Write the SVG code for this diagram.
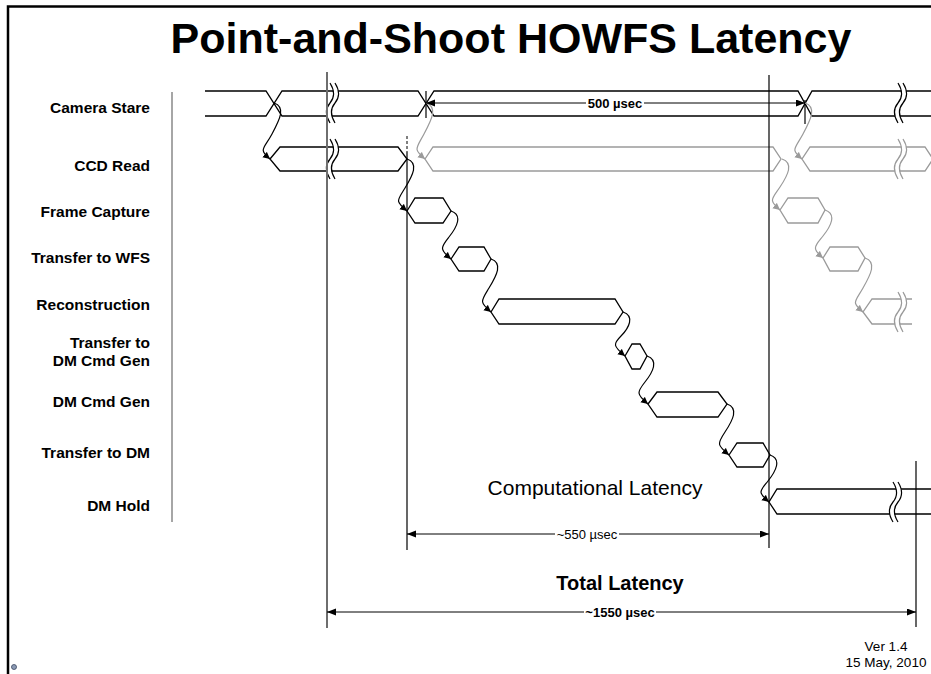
<svg xmlns="http://www.w3.org/2000/svg" xmlns:xlink="http://www.w3.org/1999/xlink" width="931" height="674" viewBox="0 0 931 674">
<style>
.lbl{font-family:"Liberation Sans",Arial,sans-serif;font-weight:bold;font-size:15.5px;text-anchor:end;fill:#000}
.bus{fill:none;stroke:#000;stroke-width:1.3;stroke-linejoin:miter}
.gbus{fill:none;stroke:#9a9a9a;stroke-width:1.3}
.con{fill:none;stroke:#000;stroke-width:1.2;marker-end:url(#ah)}
.gcon{fill:none;stroke:#9a9a9a;stroke-width:1.2;marker-end:url(#gah)}
.dim{stroke:#000;stroke-width:1;marker-start:url(#dah);marker-end:url(#dah)}
.vl{stroke:#000;stroke-width:1.2}
.txt{font-family:"Liberation Sans",Arial,sans-serif;fill:#000;text-anchor:middle}
</style>
<defs>
<marker id="ah" markerWidth="9" markerHeight="8" refX="7" refY="3.5" orient="auto" markerUnits="userSpaceOnUse"><path d="M0,0 L7,3.5 L0,7 z" fill="#000"/></marker>
<marker id="gah" markerWidth="9" markerHeight="8" refX="7" refY="3.5" orient="auto" markerUnits="userSpaceOnUse"><path d="M0,0 L7,3.5 L0,7 z" fill="#9a9a9a"/></marker>
<marker id="dah" markerWidth="10" markerHeight="8" refX="9" refY="3.5" orient="auto-start-reverse" markerUnits="userSpaceOnUse"><path d="M0,0 L9,3.5 L0,7 z" fill="#000"/></marker>
<g id="brk">
<path d="M0,-20 C5,-12 5,-6 0,0 C-5,6 -5,12 0,20 L5,20 C0,12 0,6 5,0 C10,-6 10,-12 5,-20 Z" fill="#fff" stroke="none"/>
<path d="M0,-20 C5,-12 5,-6 0,0 C-5,6 -5,12 0,20 M5,-20 C10,-12 10,-6 5,0 C0,6 0,12 5,20" fill="none" stroke-width="1.2"/>
</g>
</defs>
<rect width="931" height="674" fill="#fff"/>
<!-- frame -->
<path d="M8,674 V6.5 H931" fill="none" stroke="#000" stroke-width="2.5"/>
<circle cx="14" cy="667" r="2.5" fill="#8c9bb5" stroke="#3a4660" stroke-width="0.8"/>
<!-- title -->
<text x="511" y="53" class="txt" font-size="43" font-weight="bold">Point-and-Shoot HOWFS Latency</text>
<line x1="172" y1="92" x2="172" y2="522" stroke="#888" stroke-width="1.5"/>

<g id="camera-stare">
<text class="lbl" x="150" y="113">Camera Stare</text>
<path class="bus" d="M205,91 H266 L282,116 H418 L434,91 H798 L812,116 H931"/>
<path class="bus" d="M205,116 H266 L282,91 H418 L434,116 H798 L812,91 H931"/>
<use xlink:href="#brk" transform="translate(330,103)" stroke="#000"/>
<use xlink:href="#brk" transform="translate(898,103)" stroke="#000"/>
</g>

<g id="ccd-read">
<text class="lbl" x="150" y="171">CCD Read</text>
<polygon class="bus" points="270,159 280,147 398,147 407,159 398,171 280,171"/>
<use xlink:href="#brk" transform="translate(330,159)" stroke="#000"/>
<polygon class="gbus" points="425,159 433,147 773,147 781,159 773,171 433,171"/>
<path class="gbus" d="M933,159 L925,147 H810 L802,159 L810,171 H925 L933,159"/>
<use xlink:href="#brk" transform="translate(898,159)" stroke="#9a9a9a"/>
</g>

<g id="frame-capture">
<text class="lbl" x="150" y="217">Frame Capture</text>
<polygon class="bus" points="407,211 415,198 443,198 451,211 443,223 415,223"/>
<polygon class="gbus" points="780,210 788,198 818,198 825,210 818,223 788,223"/>
</g>

<g id="transfer-to-wfs">
<text class="lbl" x="150" y="263">Transfer to WFS</text>
<polygon class="bus" points="451,259 459,247 484,247 491,259 484,271 459,271"/>
<polygon class="gbus" points="823,258 830,247 858,247 865,258 858,271 830,271"/>
</g>

<g id="reconstruction">
<text class="lbl" x="150" y="310">Reconstruction</text>
<polygon class="bus" points="491,312 499,299 615,299 623,312 615,324 499,324"/>
<path class="gbus" d="M912,299 H872 L863,312 L872,324 H912"/>
<use xlink:href="#brk" transform="translate(898,312)" stroke="#9a9a9a"/>
</g>

<g id="transfer-to-dm-cmd-gen">
<text class="lbl" x="150" y="348">Transfer to</text>
<text class="lbl" x="150" y="366">DM Cmd Gen</text>
<polygon class="bus" points="625,356 632,344 640,344 647,356 640,369 632,369"/>
</g>

<g id="dm-cmd-gen">
<text class="lbl" x="150" y="407">DM Cmd Gen</text>
<polygon class="bus" points="648,404 657,392 718,392 727,404 718,417 657,417"/>
</g>

<g id="transfer-to-dm">
<text class="lbl" x="150" y="458">Transfer to DM</text>
<polygon class="bus" points="729,455 737,443 763,443 770,455 763,467 737,467"/>
</g>

<g id="dm-hold">
<text class="lbl" x="150" y="511">DM Hold</text>
<path class="bus" d="M931,489 H777 L769,502 L777,514 H931"/>
<use xlink:href="#brk" transform="translate(893,502)" stroke="#000"/>
</g>

<g id="timing-lines">
<line x1="327" y1="72" x2="327" y2="628" stroke="#6e6e6e" stroke-width="2"/>
<line x1="407" y1="136" x2="407" y2="152" stroke="#000" stroke-width="1" stroke-dasharray="3,2"/>
<line class="vl" x1="407" y1="152" x2="407" y2="550"/>
<line class="vl" x1="769" y1="75" x2="769" y2="548"/>
<line class="vl" x1="916" y1="461" x2="916" y2="627"/>
<line class="vl" x1="426" y1="91" x2="426" y2="118"/>
<line class="vl" x1="805" y1="100" x2="805" y2="124"/>
</g>

<g id="connectors">
<path class="con" d="M274,103 c12,4 6,16 -2,31 s-14,15 -2,25"/>
<path class="con" d="M407,159 c12,4 6,16 -2,29 s-10,13 2,23"/>
<path class="con" d="M451,211 c12,4 6,16 -2,26 s-10,12 2,22"/>
<path class="con" d="M491,259 c12,4 6,16 -2,29 s-10,14 2,24"/>
<path class="con" d="M623,312 c12,4 6,16 -2,24 s-8,10 4,20"/>
<path class="con" d="M647,356 c12,4 6,16 -2,26 s-9,12 3,22"/>
<path class="con" d="M727,404 c12,4 6,16 -2,28 s-8,13 4,23"/>
<path class="con" d="M770,455 c12,4 6,16 -2,26 s-11,11 1,21"/>
<path class="gcon" d="M426,103 c12,4 6,16 -2,31 s-11,15 1,25"/>
<path class="gcon" d="M805,103 c12,4 6,16 -2,31 s-13,15 -1,25"/>
<path class="gcon" d="M782,159 c12,4 6,16 -2,28 s-12,13 0,23"/>
<path class="gcon" d="M825,210 c12,4 6,16 -2,26 s-12,12 0,22"/>
<path class="gcon" d="M865,258 c12,4 6,16 -2,30 s-12,14 0,24"/>
</g>

<g id="dimension-500">
<line class="dim" x1="426" y1="103" x2="805" y2="103"/>
<rect x="586" y="95" width="58" height="16" fill="#fff"/>
<text class="txt" x="615" y="108" font-size="13" font-weight="bold">500 µsec</text>
</g>

<g id="dimension-550">
<text class="txt" x="595" y="495" font-size="21">Computational Latency</text>
<line class="dim" x1="407" y1="534" x2="769" y2="534"/>
<rect x="555" y="526" width="64" height="16" fill="#fff"/>
<text class="txt" x="587" y="539" font-size="13">~550 µsec</text>
</g>

<g id="dimension-1550">
<text class="txt" x="620" y="590" font-size="20" font-weight="bold">Total Latency</text>
<line class="dim" x1="327" y1="612" x2="916" y2="612"/>
<rect x="584" y="604" width="72" height="16" fill="#fff"/>
<text class="txt" x="620" y="617" font-size="13" font-weight="bold">~1550 µsec</text>
</g>

<g id="version">
<text class="txt" x="886" y="651" font-size="13.5">Ver 1.4</text>
<text class="txt" x="886" y="667" font-size="13.5">15 May, 2010</text>
</g>
</svg>
